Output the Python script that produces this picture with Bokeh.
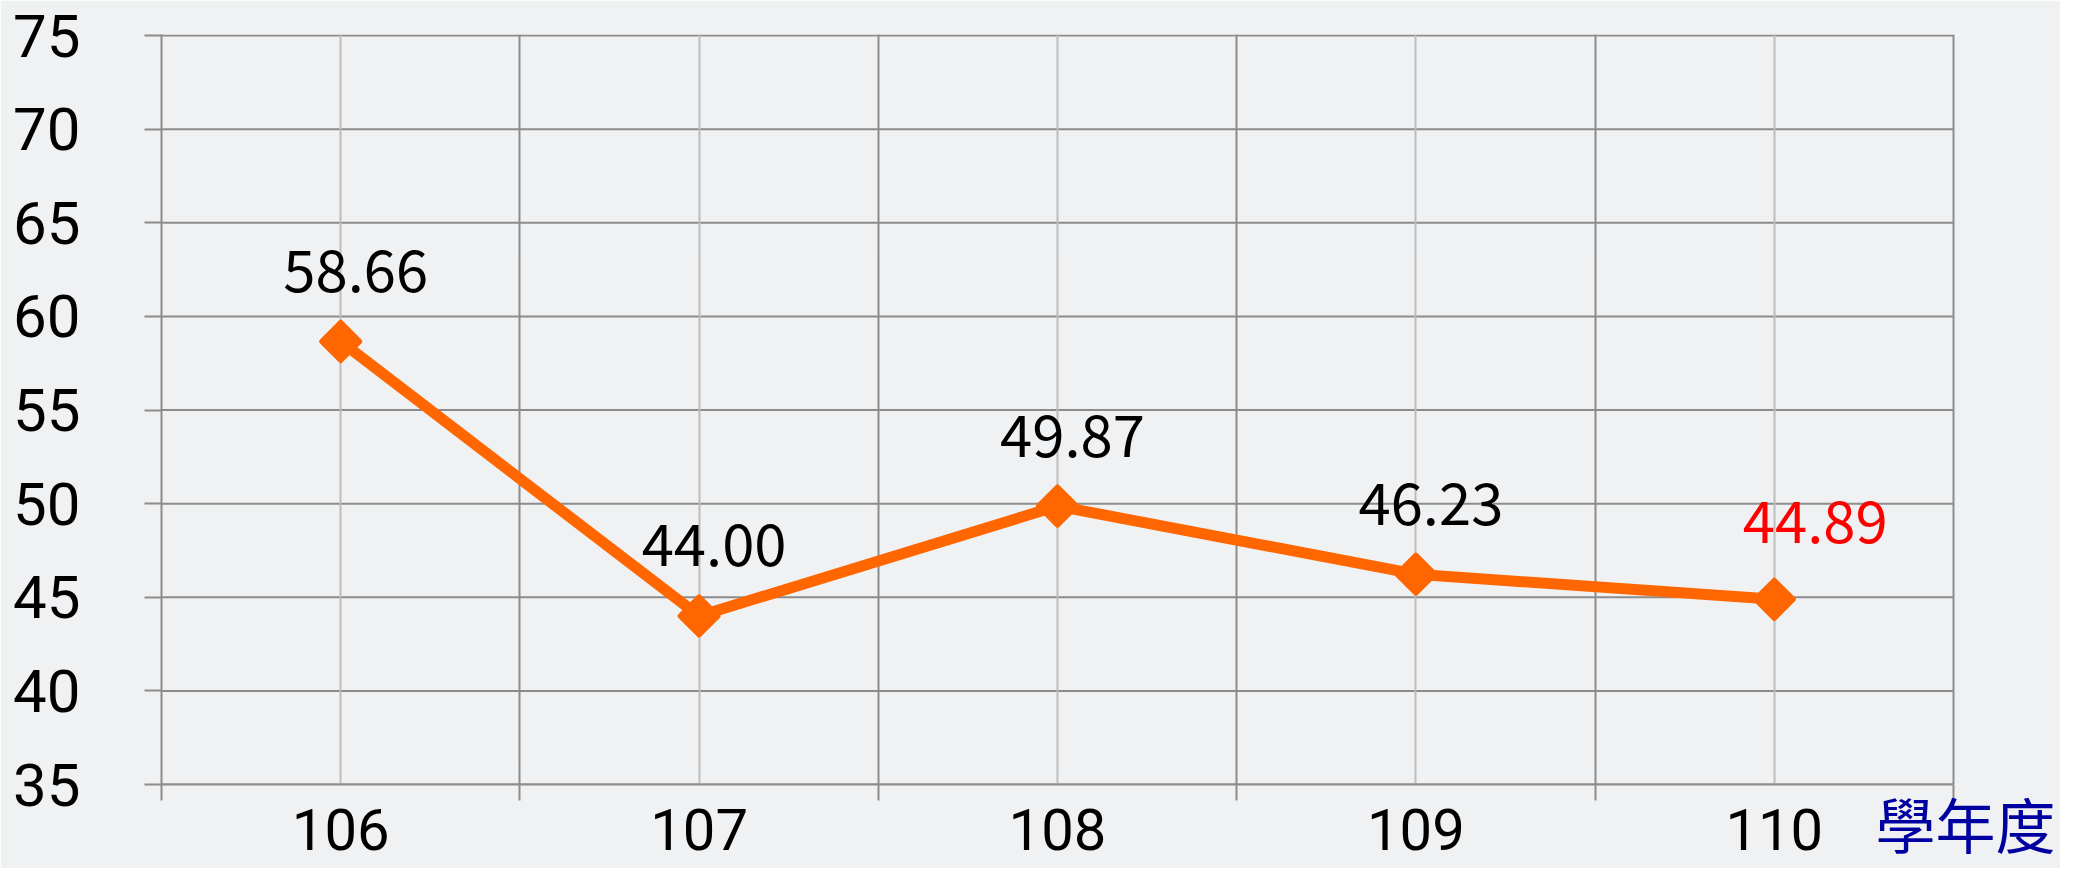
from bokeh.plotting import figure
from bokeh.models import FixedTicker, ColumnDataSource
from bokeh.core.properties import value
from bokeh.embed import file_html
from bokeh.resources import INLINE

years = ["106", "107", "108", "109", "110"]
scores = [58.66, 44.00, 49.87, 46.23, 44.89]
y_ticks = [35, 40, 45, 50, 55, 60, 65, 70, 75]
x_title = "學年度"

xs = list(range(1, len(years) + 1))
labels = [f"{v:.2f}" for v in scores]
x_lo, x_hi = xs[0] - 0.5, xs[-1] + 0.5

BG = "#F0F1F3"
DARK = "#8C8C8C"
LIGHT = "#BDBDBD"
ORANGE = "#FF6600"

W, H = 2060, 868
LEFT, RIGHT_X = 161, 1953     # plot-area edges (x_lo, x_hi)
TOP_Y, BOTTOM_Y = 35, 784     # y=75 and y=35
TITLE_CX = 1965               # centre of the x title
px_per_x = (RIGHT_X - LEFT) / (x_hi - x_lo)
px_per_y = (BOTTOM_Y - TOP_Y) / (y_ticks[-1] - y_ticks[0])

p = figure(width=W, height=H, output_backend="svg", toolbar_location=None,
           x_range=(x_lo, x_hi + (TITLE_CX - RIGHT_X) / px_per_x),
           y_range=(y_ticks[0], y_ticks[-1] + 1 / px_per_y),
           min_border_left=LEFT, min_border_right=W - TITLE_CX,
           min_border_top=TOP_Y - 1, min_border_bottom=H - BOTTOM_Y)
p.background_fill_color = BG
p.border_fill_color = BG
p.outline_line_color = None

# x axis: labels at centers, ticks at boundaries
p.xaxis.ticker = FixedTicker(ticks=xs, minor_ticks=[x - 0.5 for x in xs] + [x_hi])
p.xaxis.bounds = (x_lo, x_hi)
p.xaxis.major_label_overrides = {x: y for x, y in zip(xs, years)}
p.xaxis.major_tick_line_color = None
p.xaxis.major_tick_out = 0
p.xaxis.major_tick_in = 0
p.xaxis.minor_tick_line_color = DARK
p.xaxis.minor_tick_line_width = 2
p.xaxis.minor_tick_in = 0
p.xaxis.minor_tick_out = 16
p.xaxis.axis_line_color = DARK
p.xaxis.axis_line_width = 2
p.xaxis.major_label_text_font = "Roboto"
p.xaxis.major_label_text_font_size = "58px"
p.xaxis.major_label_text_color = "#000000"
p.xaxis.major_label_standoff = 8
p.xaxis.axis_label = x_title
p.xaxis.axis_label_text_font = "Noto Sans CJK TC"
p.xaxis.axis_label_text_font_size = "60px"
p.xaxis.axis_label_text_font_style = "normal"
p.xaxis.axis_label_text_color = "#0000A0"
p.xaxis.axis_label_standoff = -74
p.xaxis.axis_label_align = "end"

# y axis
p.yaxis.ticker = FixedTicker(ticks=y_ticks, minor_ticks=[])
p.yaxis.major_tick_in = 0
p.yaxis.major_tick_out = 17
p.yaxis.major_tick_line_color = DARK
p.yaxis.major_tick_line_width = 2
p.yaxis.axis_line_color = DARK
p.yaxis.axis_line_width = 2
p.yaxis.major_label_text_font = "Roboto"
p.yaxis.major_label_text_font_size = "60px"
p.yaxis.major_label_text_color = "#000000"
p.yaxis.major_label_standoff = 64

# grids
p.ygrid.visible = False
p.segment(x0=x_lo, x1=x_hi, y0=y_ticks, y1=y_ticks, line_color=DARK,
          line_width=2, level="underlay")
p.xgrid.grid_line_color = LIGHT
p.xgrid.grid_line_width = 2
p.xgrid.minor_grid_line_color = DARK
p.xgrid.minor_grid_line_width = 2

src = ColumnDataSource(dict(x=xs, y=scores, lab=labels))

p.line("x", "y", source=src, line_color=ORANGE, line_width=11, line_join="round")
p.scatter("x", "y", source=src, marker="square", angle=0.785398, size=27,
          fill_color=ORANGE, line_color=ORANGE, line_width=5, line_join="round")

n = len(xs)
src_a = ColumnDataSource(dict(x=xs[:n - 1], y=scores[:n - 1], lab=labels[:n - 1]))
src_b = ColumnDataSource(dict(x=xs[n - 1:], y=scores[n - 1:], lab=labels[n - 1:]))
p.text("x", "y", text="lab", source=src_a, text_font=value("Noto Sans CJK TC"),
       text_font_size="58px", text_color="#000000", text_align="center",
       text_baseline="alphabetic", x_offset=15, y_offset=-71)
p.text("x", "y", text="lab", source=src_b, text_font=value("Noto Sans CJK TC"),
       text_font_size="58px", text_color="#FF0000", text_align="center",
       text_baseline="alphabetic", x_offset=41, y_offset=-78)

open("out.html", "w").write(file_html(p, INLINE))
